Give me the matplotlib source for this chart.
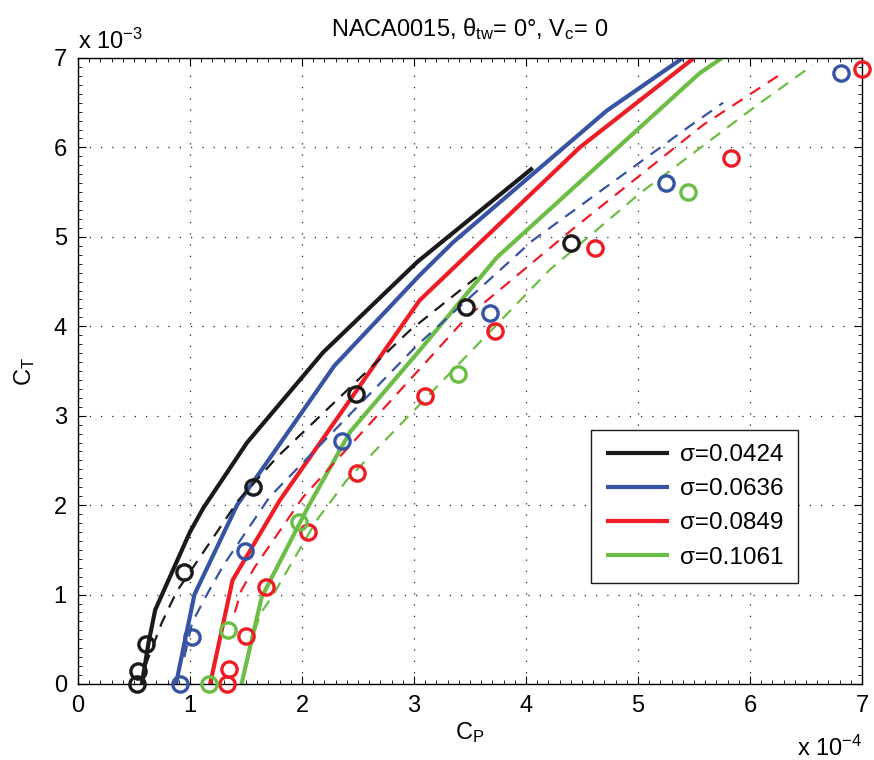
import matplotlib
matplotlib.use("Agg")
import matplotlib.pyplot as plt
from matplotlib.ticker import MultipleLocator

# C_P in units of 1e-4, C_T in units of 1e-3
sigmas = ["0.0424", "0.0636", "0.0849", "0.1061"]
colors = ["#1a1a1a", "#3653a4", "#ee1d25", "#6bbd45"]

# solid curves
solid_cp = [
    [0.57, 0.63, 0.69, 1.0, 1.12, 1.51, 2.19, 3.03, 4.06],
    [0.875, 1.04, 1.42, 2.29, 3.05, 3.35, 4.72, 5.40],
    [1.18, 1.38, 1.80, 3.05, 4.48, 5.50],
    [1.46, 1.64, 2.05, 2.43, 3.05, 3.74, 5.55, 5.75],
]
solid_ct = [
    [0.0, 0.46, 0.83, 1.7, 1.97, 2.7, 3.71, 4.72, 5.77],
    [0.0, 1.0, 2.0, 3.56, 4.57, 4.94, 6.41, 7.0],
    [0.0, 1.16, 2.05, 4.29, 6.0, 7.0],
    [0.0, 0.97, 1.97, 2.82, 3.73, 4.77, 6.83, 7.0],
]

# dashed curves
dash_cp = [
    [0.60, 0.75, 0.88, 1.43, 1.78, 2.96, 3.56],
    [0.95, 1.02, 1.16, 1.30, 1.71, 3.03, 4.06, 5.43, 5.76],
    [1.40, 1.46, 1.58, 2.01, 3.47, 4.42, 5.58, 6.30],
    [1.58, 1.63, 1.73, 2.13, 2.40, 4.21, 5.02, 6.06, 6.56],
]
dash_ct = [
    [0.2, 0.69, 1.03, 2.05, 2.54, 3.95, 4.55],
    [0.3, 0.69, 1.02, 1.33, 2.09, 3.79, 4.96, 6.21, 6.5],
    [0.8, 1.05, 1.31, 2.09, 4.10, 5.09, 6.25, 6.84],
    [0.6, 0.79, 0.97, 1.83, 2.28, 4.63, 5.49, 6.47, 6.92],
]

# experimental points
exp_cp = [
    [0.53, 0.54, 0.61, 0.95, 1.56, 2.48, 3.46, 4.40],
    [0.91, 1.02, 1.49, 2.36, 3.68, 5.25, 6.81],
    [1.33, 1.35, 1.50, 1.68, 2.05, 2.49, 3.10, 3.72, 4.62, 5.83, 7.0],
    [1.17, 1.34, 1.97, 3.39, 5.45],
]
exp_ct = [
    [0.0, 0.15, 0.45, 1.25, 2.2, 3.24, 4.21, 4.93],
    [0.0, 0.52, 1.49, 2.72, 4.15, 5.6, 6.83],
    [0.0, 0.17, 0.54, 1.08, 1.70, 2.36, 3.22, 3.95, 4.88, 5.88, 6.88],
    [0.0, 0.6, 1.81, 3.47, 5.5],
]

plt.rcParams.update({"font.family": ["Liberation Sans", "DejaVu Sans"],
                     "font.size": 17,
                     "mathtext.fontset": "custom",
                     "mathtext.rm": "Liberation Sans",
                     "mathtext.it": "Liberation Sans"})

fig = plt.figure(figsize=(8.74, 7.6), dpi=100)
ax = fig.add_axes([0.0892, 0.1, 0.8971, 0.8237])

for i in range(4):
    ax.plot(solid_cp[i], solid_ct[i], color=colors[i], lw=3.0,
            label=f"σ={sigmas[i]}", solid_capstyle="butt")
for i in range(4):
    ax.plot(dash_cp[i], dash_ct[i], color=colors[i], lw=1.6,
            ls=(0, (5.5, 4)))
for i in range(4):
    ax.plot(exp_cp[i], exp_ct[i], ls="none", marker="o", ms=11,
            mfc="none", mec=colors[i], mew=2.4, clip_on=False, zorder=5)

ax.set_xlim(0, 7)
ax.set_ylim(0, 7)
ax.xaxis.set_major_locator(MultipleLocator(1))
ax.yaxis.set_major_locator(MultipleLocator(1))
ax.xaxis.set_minor_locator(MultipleLocator(0.1))
ax.yaxis.set_minor_locator(MultipleLocator(0.1))
ax.tick_params(which="both", direction="in", top=True, right=True)
ax.tick_params(which="major", length=6, labelsize=17, pad=8)
ax.tick_params(which="minor", length=3)
ax.grid(True, which="major", ls=(0, (1, 8)), color="#222222", lw=0.9)
for s in ax.spines.values():
    s.set_linewidth(1.0)

ax.set_xlabel("C$_{\\rm P}$", fontsize=17, labelpad=2)
ax.set_ylabel("C$_{\\rm T}$", fontsize=17, labelpad=12)
ax.set_title("NACA0015, θ$_{\\rm tw}$= 0°, V$_{\\rm c}$= 0", fontsize=17, pad=16)

ax.text(0.0, 1.006, "x 10$^{-3}$", transform=ax.transAxes,
        ha="left", va="bottom", fontsize=17)
ax.text(1.0, -0.082, "x 10$^{-4}$", transform=ax.transAxes,
        ha="right", va="top", fontsize=17)

leg = ax.legend(loc="lower right", bbox_to_anchor=(0.918, 0.161),
                borderaxespad=0, fontsize=17.5, frameon=True, fancybox=False,
                handlelength=2.6, borderpad=0.6, labelspacing=0.5,
                handletextpad=0.45)
leg.get_frame().set_edgecolor("#1a1a1a")
leg.get_frame().set_linewidth(1.0)
leg.get_frame().set_alpha(1.0)

fig.savefig("out.png", dpi=100)
